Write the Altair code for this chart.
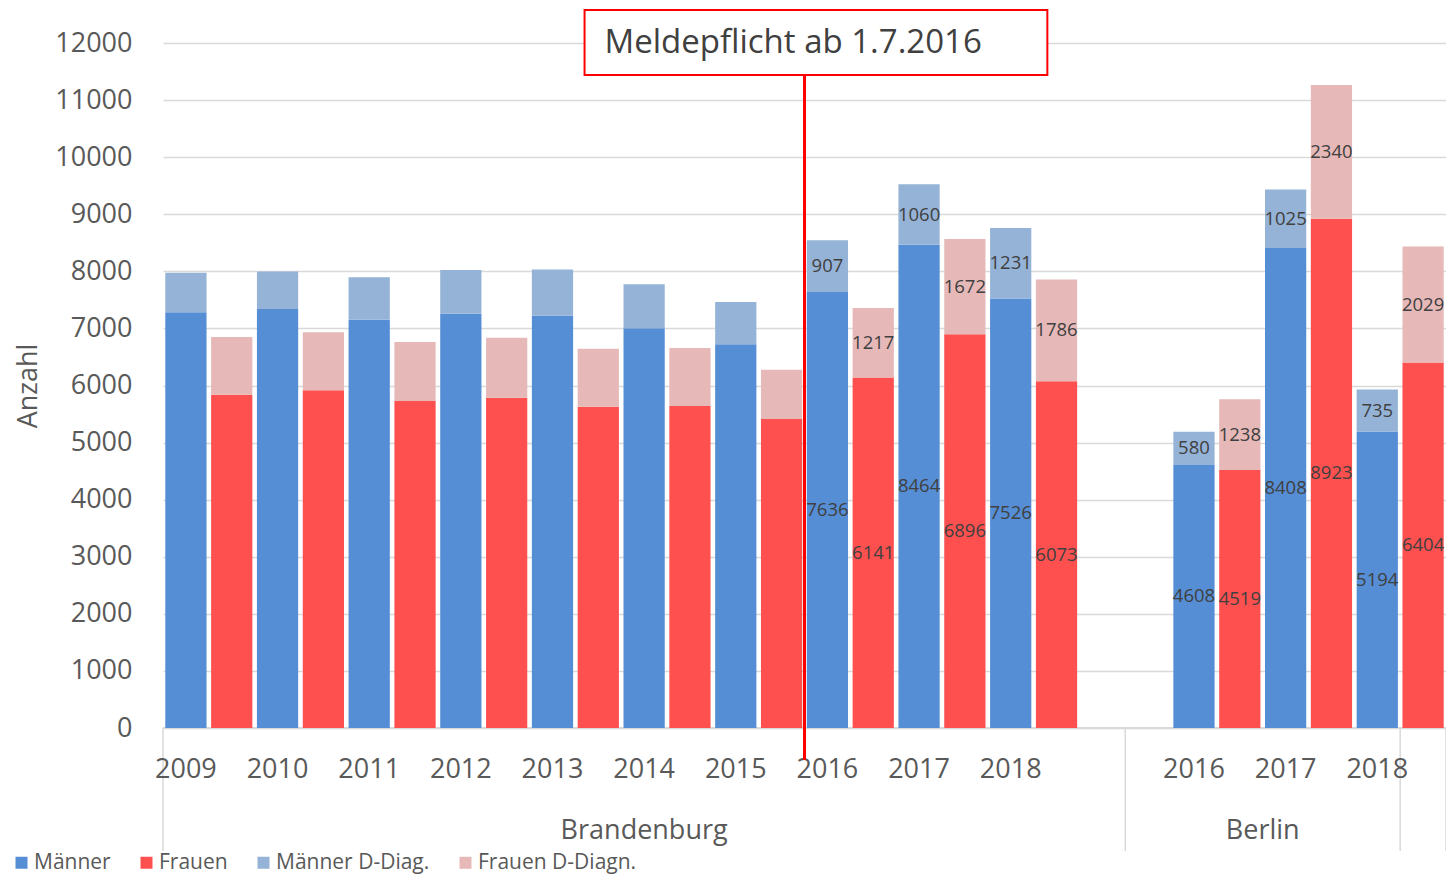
import altair as alt
import pandas as pd

# ---------------- data ----------------
years_bb = [2009, 2010, 2011, 2012, 2013, 2014, 2015, 2016, 2017, 2018]
maenner_bb = [7283, 7340, 7153, 7259, 7224, 7002, 6722, 7636, 8464, 7526]
maenner_dd_bb = [690, 655, 745, 765, 810, 770, 740, 907, 1060, 1231]
frauen_bb = [5840, 5916, 5729, 5787, 5629, 5641, 5413, 6141, 6896, 6073]
frauen_dd_bb = [1010, 1015, 1035, 1050, 1015, 1015, 865, 1217, 1672, 1786]

years_be = [2016, 2017, 2018]
maenner_be = [4608, 8408, 5194]
maenner_dd_be = [580, 1025, 735]
frauen_be = [4519, 8923, 6404]
frauen_dd_be = [1238, 2340, 2029]

regions = ["Brandenburg", "Berlin"]
series = ["Männer", "Frauen", "Männer D-Diag.", "Frauen D-Diagn."]
colors = ["#558ED5", "#FF5050", "#95B3D7", "#E6B9B8"]
labelled_from = 2016
y_ticks = list(range(0, 12001, 1000))
annotation_text = "Meldepflicht ab 1.7.2016"

# ---------------- tables ----------------
slots, rows, year_rows = [], [], []
for region, years, m, mdd, f, fdd in [
    ("Brandenburg", years_bb, maenner_bb, maenner_dd_bb, frauen_bb, frauen_dd_bb),
    ("Berlin", years_be, maenner_be, maenner_dd_be, frauen_be, frauen_dd_be),
]:
    for i, y in enumerate(years):
        for sex, base, dd, bname, ddname in [
            ("M", m[i], mdd[i], series[0], series[2]),
            ("F", f[i], fdd[i], series[1], series[3]),
        ]:
            key = f"{region} {y} {sex}"
            slots.append(key)
            rows.append(dict(slot=key, series=bname, layer=0, value=base, show=y >= labelled_from))
            rows.append(dict(slot=key, series=ddname, layer=1, value=dd, show=y >= labelled_from))
        year_rows.append(dict(slot=f"{region} {y} M", year=str(y)))
    if region == "Brandenburg":
        slots += ["gap a", "gap b"]

df = pd.DataFrame(rows)
years_df = pd.DataFrame(year_rows)

n = len(slots)
breaks = [0, 21, 27, n]
sep_df = pd.DataFrame({"b": breaks})
group_df = pd.DataFrame({"c": [(breaks[0] + breaks[1]) / 2, (breaks[1] + breaks[2]) / 2], "name": regions})
melde_idx = slots.index("Brandenburg 2016 M")
line_df = pd.DataFrame({"b": [melde_idx]})
box_df = pd.DataFrame({"x0": [9.2], "x1": [19.3], "t": [annotation_text]})

# ---------------- chart ----------------
W, H = 1283, 685
grey = "#595959"
xband = alt.X("slot:N", scale=alt.Scale(domain=slots, paddingInner=0.1, paddingOuter=0.05), axis=None)
xq = alt.Scale(domain=[0, n], nice=False, zero=False)
yscale = alt.Scale(domain=[0, 12000], nice=False)

baseline = alt.Chart(pd.DataFrame({"v": [0]})).mark_rule(color="#d9d9d9", strokeWidth=2).encode(
    y=alt.Y("v:Q", scale=yscale)
)

seps = alt.Chart(sep_df).mark_rule(color="#d9d9d9", strokeWidth=1.5).encode(
    x=alt.X("b:Q", scale=xq, axis=None), y=alt.value(H), y2=alt.value(H + 123)
)

bars = alt.Chart(df).mark_bar().encode(
    x=xband,
    y=alt.Y(
        "value:Q",
        stack="zero",
        scale=yscale,
        axis=alt.Axis(
            values=y_ticks, format="d", title="Anzahl", grid=True, gridColor="#d9d9d9", gridWidth=1.5,
            domain=False, ticks=False, tickSize=0, labelPadding=31, labelFontSize=27,
            labelColor=grey, titleFontSize=27, titleFontWeight="normal", titleColor=grey,
            titleX=-121, titleY=H / 2, titleAngle=-90,
        ),
    ),
    color=alt.Color(
        "series:N",
        scale=alt.Scale(domain=series, range=colors),
        legend=alt.Legend(
            orient="none", legendX=-152, legendY=809, direction="horizontal", title=None,
            symbolType="square", symbolSize=144, symbolStrokeWidth=0, labelFontSize=21,
            labelColor=grey, labelOffset=2, columnPadding=25,
        ),
    ),
    order=alt.Order("layer:Q"),
)

labels = (
    alt.Chart(df)
    .transform_stack(stack="value", groupby=["slot"], as_=["v0", "v1"],
                     sort=[alt.SortField("layer", "ascending")])
    .transform_calculate(mid="(datum.v0 + datum.v1) / 2")
    .transform_filter("datum.show")
    .mark_text(fontSize=18.5, color="#404040", baseline="middle")
    .encode(x=xband, y=alt.Y("mid:Q", scale=yscale), text="value:Q")
)

year_labels = alt.Chart(years_df).mark_text(fontSize=27, color=grey, baseline="middle").encode(
    x=xband, y=alt.value(H + 42), text="year:N"
)

group_labels = alt.Chart(group_df).mark_text(fontSize=27, color=grey, baseline="middle").encode(
    x=alt.X("c:Q", scale=xq, axis=None), y=alt.value(H + 103), text="name:N"
)

red_line = alt.Chart(line_df).mark_rule(color="#FF0000", strokeWidth=3).encode(
    x=alt.X("b:Q", scale=xq, axis=None), y=alt.value(32), y2=alt.value(717)
)

box = alt.Chart(box_df).mark_rect(fill="white", stroke="#FF0000", strokeWidth=2).encode(
    x=alt.X("x0:Q", scale=xq, axis=None), x2="x1:Q", y=alt.value(-33), y2=alt.value(32)
)

box_text = alt.Chart(box_df).mark_text(
    align="left", baseline="middle", dx=20, fontSize=33, color="#404040"
).encode(x=alt.X("x0:Q", scale=xq, axis=None), y=alt.value(0), text="t:N")

chart = (
    alt.layer(baseline, seps, bars, labels, year_labels, group_labels, red_line, box, box_text)
    .resolve_scale(x="independent")
    .properties(
        width=W, height=H,
        padding={"left": 155, "top": 35, "right": 0, "bottom": 147},
        autosize=alt.AutoSizeParams(type="none"),
    )
    .configure(font="Open Sans", background="white")
    .configure_view(stroke=None)
)

chart.save("out.html", embed_options={"renderer": "svg", "actions": False})
